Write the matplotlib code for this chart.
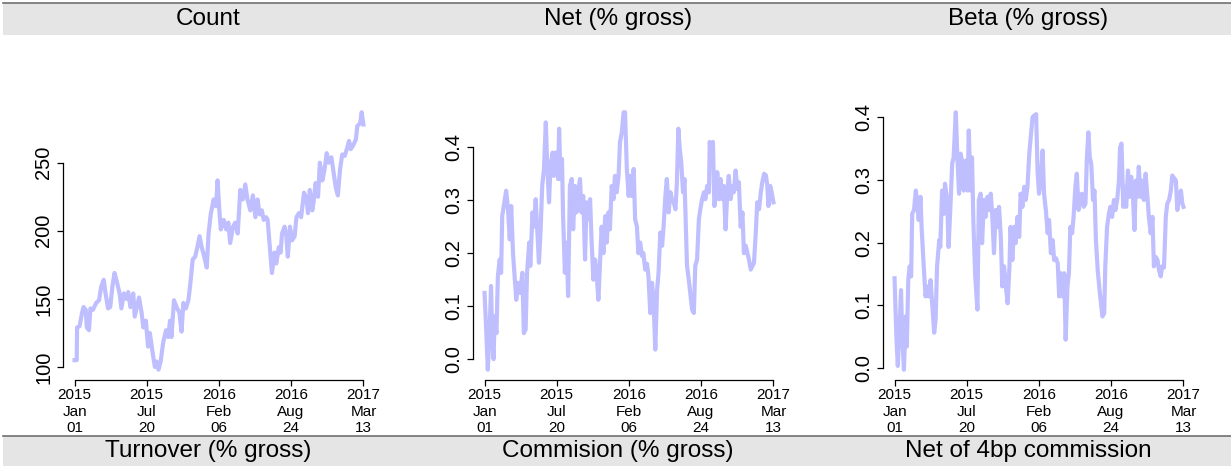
import numpy as np
import matplotlib
matplotlib.use('Agg')
import matplotlib.pyplot as plt
from matplotlib.patches import Rectangle

# ---- data (days since 2015-01-01) ----
start = np.datetime64('2015-01-01')
tick_dates = ['2015-01-01', '2015-07-20', '2016-02-06', '2016-08-24', '2017-03-13']
tick_labels = ['2015\nJan\n01', '2015\nJul\n20', '2016\nFeb\n06', '2016\nAug\n24', '2017\nMar\n13']
top_titles = ['Count', 'Net (% gross)', 'Beta (% gross)']
bottom_titles = ['Turnover (% gross)', 'Commision (% gross)', 'Net of 4bp commission']

count_days = [0, 6, 7, 14, 21, 25, 31, 34, 40, 44,
              51, 60, 68, 74, 81, 86, 93, 99, 105, 111,
              118, 125, 130, 137, 144, 149, 155, 163, 167, 174,
              179, 186, 191, 198, 204, 209, 217, 223, 228, 233,
              239, 246, 254, 260, 265, 269, 276, 283, 291, 297,
              302, 309, 316, 321, 328, 335, 341, 347, 353, 360,
              367, 372, 378, 386, 393, 397, 402, 406, 414, 421,
              427, 432, 440, 446, 453, 460, 467, 474, 480, 488,
              495, 502, 508, 514, 520, 525, 532, 536, 542, 548,
              555, 560, 567, 572, 576, 583, 588, 592, 598, 604,
              611, 616, 623, 629, 637, 644, 648, 653, 660, 664,
              669, 676, 681, 688, 694, 700, 706, 713, 718, 725,
              731, 737, 743, 750, 756, 762, 767, 774, 781, 785,
              793, 797, 802]
count_vals = [105, 105, 129, 130, 140, 144, 142, 129, 127, 143,
              142, 147, 149, 159, 164, 154, 143, 144, 159, 169,
              162, 154, 143, 154, 150, 155, 144, 154, 137, 145,
              151, 140, 129, 134, 115, 125, 110, 100, 104, 98,
              104, 118, 127, 122, 134, 122, 149, 144, 140, 126,
              147, 143, 149, 160, 179, 181, 188, 196, 188, 181,
              173, 198, 212, 223, 218, 237, 215, 201, 208, 201,
              206, 191, 203, 206, 198, 230, 223, 234, 223, 215,
              226, 210, 223, 212, 215, 208, 210, 208, 188, 169,
              184, 176, 188, 184, 198, 203, 196, 181, 203, 193,
              196, 210, 213, 210, 228, 223, 213, 230, 215, 222,
              235, 225, 250, 237, 245, 257, 250, 254, 245, 232,
              226, 245, 256, 255, 260, 266, 260, 263, 267, 277,
              279, 287, 278]

net_days = [0, 5, 9, 14, 18, 21, 25, 28, 33, 37,
            42, 46, 49, 56, 60, 65, 70, 74, 79, 84,
            88, 93, 99, 105, 109, 114, 118, 124, 127, 133,
            137, 142, 146, 151, 156, 160, 165, 170, 174, 179,
            183, 189, 192, 198, 204, 207, 211, 215, 218, 223,
            228, 232, 237, 242, 246, 251, 255, 260, 265, 269,
            274, 279, 283, 288, 293, 297, 302, 307, 311, 316,
            321, 325, 330, 335, 339, 344, 348, 353, 358, 362,
            367, 372, 376, 381, 386, 390, 395, 400, 404, 409,
            414, 418, 423, 427, 432, 437, 441, 446, 451, 455,
            460, 465, 469, 474, 479, 483, 488, 493, 497, 502,
            506, 511, 516, 520, 525, 530, 534, 538, 542, 546,
            551, 555, 559, 562, 567, 572, 576, 581, 585, 590,
            595, 599, 604, 609, 613, 618, 623, 625, 629, 634,
            638, 642, 646, 651, 655, 660, 664, 669, 674, 678,
            683, 688, 692, 697, 702, 706, 711, 716, 720, 725,
            730, 734, 739, 743, 748, 753, 757, 762, 767, 771,
            776, 781, 785, 788, 793, 797, 802]
net_vals = [.125, .049, -.02, .05, .138, .045, 0.0, .081, .049, .157,
            .188, .163, .27, .30, .318, .283, .226, .289, .20, .15,
            .112, .144, .125, .163, .049, .056, .163, .22, .176, .277,
            .25, .302, .25, .182, .25, .327, .359, .447, .365, .296,
            .365, .39, .346, .39, .34, .435, .34, .378, .27, .163,
            .22, .119, .327, .34, .245, .327, .277, .315, .34, .277,
            .308, .188, .296, .264, .302, .226, .15, .188, .163, .112,
            .188, .25, .20, .27, .22, .277, .245, .327, .302, .346,
            .315, .346, .41, .428, .466, .466, .359, .308, .346, .308,
            .359, .264, .25, .20, .22, .195, .20, .169, .18, .157,
            .087, .144, .112, .018, .131, .163, .239, .214, .25, .308,
            .34, .277, .315, .302, .296, .283, .334, .435, .397, .372,
            .315, .34, .25, .176, .15, .119, .094, .087, .176, .188,
            .264, .283, .302, .315, .302, .327, .315, .41, .397, .41,
            .289, .308, .353, .302, .34, .302, .327, .245, .315, .346,
            .302, .327, .315, .356, .321, .334, .25, .277, .20, .214,
            .20, .188, .169, .175, .182, .239, .296, .283, .315, .334,
            .35, .347, .327, .289, .327, .315, .296]

beta_days = [0, 5, 9, 14, 18, 21, 26, 31, 34, 38,
             42, 46, 49, 54, 59, 62, 67, 72, 75, 81,
             86, 90, 95, 100, 105, 110, 114, 118, 124, 127,
             132, 137, 140, 146, 150, 155, 160, 164, 170, 174,
             179, 183, 189, 192, 198, 203, 206, 211, 215, 219,
             224, 230, 234, 239, 243, 248, 253, 258, 263, 267,
             271, 276, 281, 285, 290, 295, 299, 304, 309, 314,
             319, 322, 327, 332, 336, 341, 346, 350, 355, 360,
             364, 369, 374, 378, 383, 388, 393, 397, 401, 406,
             411, 415, 420, 425, 429, 434, 439, 443, 448, 453,
             457, 462, 467, 471, 475, 480, 484, 488, 493, 497,
             502, 506, 511, 516, 520, 525, 530, 534, 538, 542,
             546, 551, 555, 559, 564, 569, 573, 577, 582, 585,
             590, 595, 599, 604, 609, 613, 618, 623, 626, 630,
             635, 639, 643, 648, 652, 657, 662, 666, 670, 674,
             678, 683, 688, 692, 697, 702, 706, 711, 716, 720,
             725, 730, 734, 739, 743, 748, 753, 757, 762, 767,
             771, 776, 781, 785, 790, 795, 799, 802]
beta_vals = [.143, .05, .003, .066, .124, .056, -.003, .082, .034, .14,
             .162, .146, .246, .252, .283, .268, .236, .273, .225, .162,
             .114, .13, .114, .14, .098, .056, .077, .162, .204, .193,
             .283, .246, .294, .268, .193, .257, .326, .336, .408, .342,
             .278, .342, .326, .283, .331, .283, .379, .283, .336, .23,
             .146, .093, .268, .278, .199, .268, .241, .273, .252, .278,
             .246, .183, .252, .225, .257, .209, .13, .162, .13, .103,
             .162, .225, .172, .225, .199, .241, .209, .278, .257, .289,
             .268, .289, .342, .368, .40, .403, .405, .315, .278, .299,
             .347, .278, .252, .215, .236, .183, .204, .172, .175, .167,
             .114, .151, .114, .151, .045, .13, .151, .225, .215, .241,
             .289, .31, .252, .273, .278, .257, .262, .336, .376, .336,
             .326, .268, .283, .204, .156, .125, .103, .082, .087, .162,
             .225, .246, .257, .241, .268, .252, .268, .299, .352, .358,
             .257, .289, .257, .315, .273, .305, .273, .22, .299, .273,
             .321, .273, .299, .268, .31, .273, .241, .215, .241, .162,
             .177, .172, .156, .146, .162, .16, .241, .262, .268, .283,
             .307, .303, .299, .252, .273, .283, .262, .257]

yticks = [[100, 150, 200, 250], [0.0, 0.1, 0.2, 0.3, 0.4], [0.0, 0.1, 0.2, 0.3, 0.4]]
ylabels = [['100', '150', '200', '250'],
           ['0.0', '0.1', '0.2', '0.3', '0.4'],
           ['0.0', '0.1', '0.2', '0.3', '0.4']]
series = [(count_days, count_vals), (net_days, net_vals), (beta_days, beta_vals)]

# ---- figure ----
W, H = 1231, 466
fig = plt.figure(figsize=(W / 100, H / 100), dpi=100)
line_col = '#bfbfff'
xt = (np.array(tick_dates, dtype='datetime64[D]') - start).astype(int)

for i, (d, v) in enumerate(series):
    ax = fig.add_axes([(63 + 410 * i) / W, (H - 380) / H, 312 / W, 278 / H])
    ax.plot(d, v, color=line_col, lw=3, solid_joinstyle='round')
    ax.margins(x=0.04, y=0.04)
    for s in ['top', 'right']:
        ax.spines[s].set_visible(False)
    ax.spines['left'].set_bounds(yticks[i][0], yticks[i][-1])
    ax.spines['bottom'].set_bounds(xt[0], xt[-1])
    ax.set_yticks(yticks[i])
    ax.set_yticklabels(ylabels[i], rotation=90, va='center', fontsize=14.5,
                       family='Liberation Sans')
    ax.set_xticks(xt)
    ax.set_xticklabels(tick_labels, fontsize=11, family='Liberation Sans',
                       linespacing=1.2)
    ax.tick_params(direction='out', length=4, width=0.9)
    ax.tick_params(axis='y', pad=3)
    ax.tick_params(axis='x', pad=2)
    for s in ['left', 'bottom']:
        ax.spines[s].set_linewidth(0.9)

# ---- strips ----
for (y0, y1, titles) in [(3, 35, top_titles), (436, 466, bottom_titles)]:
    fig.patches.append(Rectangle((3 / W, 1 - y1 / H), 1 - 3 / W, (y1 - y0) / H,
                                 transform=fig.transFigure, facecolor='#e5e5e5',
                                 edgecolor='none'))
    fig.lines.append(plt.Line2D([3 / W, 1], [1 - y0 / H, 1 - y0 / H],
                                transform=fig.transFigure, color='#707070', lw=1.2))
    for j, t in enumerate(titles):
        fig.text((208 + 410 * j) / W, 1 - (y0 + y1) / 2 / H, t, ha='center',
                 va='center', fontsize=17.5, family='Liberation Sans')

fig.savefig('out.png', dpi=100)
